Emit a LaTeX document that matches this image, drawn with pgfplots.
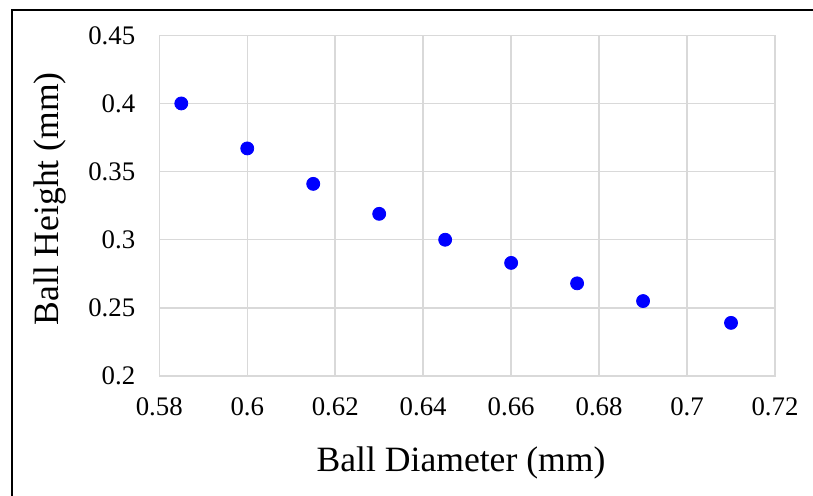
\documentclass[border=0pt]{standalone}
\usepackage{fontspec}
\setmainfont{Liberation Serif}
\usepackage{pgfplots}
\pgfplotsset{compat=1.18}
\definecolor{gridgray}{RGB}{217,217,217}
\begin{document}
\begin{tikzpicture}
\useasboundingbox (-79.65pt,-59.5pt) rectangle (326.85pt,188pt);
\draw[line width=1.3pt] (-73.65pt,-60pt) -- (-73.65pt,183pt) -- (327pt,183pt);
\begin{axis}[
  at={(0pt,0pt)}, anchor=south west,
  scale only axis, width=307.85pt, height=170.35pt,
  xmin=0.58, xmax=0.72, ymin=0.2, ymax=0.45,
  xtick={0.58,0.6,...,0.721}, ytick={0.2,0.25,...,0.451},
  xticklabels={0.58,0.6,0.62,0.64,0.66,0.68,0.7,0.72},
  yticklabels={0.2,0.25,0.3,0.35,0.4,0.45},
  major tick length=0pt,
  grid=major,
  major grid style={draw=gridgray, line width=0.75pt},
  axis line style={draw=gridgray, line width=0.75pt},
  tick label style={font=\fontsize{13.4pt}{15pt}\selectfont, text=black},
  /pgf/number format/assume math mode=true,
  xticklabel style={yshift=-7.5pt},
  yticklabel style={xshift=-8.5pt},
  xlabel={Ball Diameter (mm)},
  ylabel={Ball Height (mm)},
  label style={font=\fontsize{17.8pt}{20pt}\selectfont},
  xlabel style={at={(rel axis cs:0.49,0)}, anchor=base, yshift=-47.85pt},
  ylabel style={at={(rel axis cs:0,0.52)}, anchor=center, yshift=54.5pt},
]
\addplot[only marks, mark=*, mark size=3.25pt, color={rgb,255:red,0;green,0;blue,255}] coordinates {
  (0.585,0.400)
  (0.600,0.367)
  (0.615,0.341)
  (0.630,0.319)
  (0.645,0.300)
  (0.660,0.283)
  (0.675,0.268)
  (0.690,0.255)
  (0.710,0.239)
};
\end{axis}
\end{tikzpicture}
\end{document}
